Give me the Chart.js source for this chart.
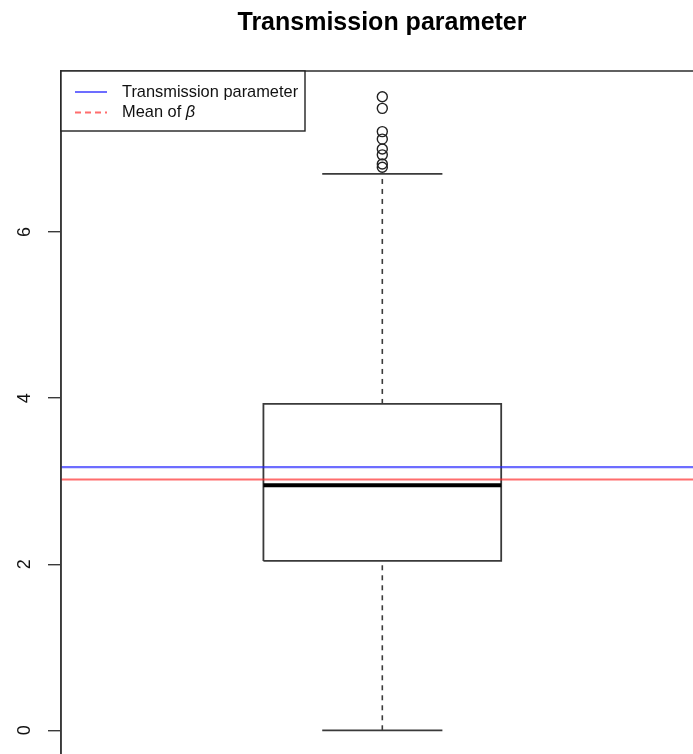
<!DOCTYPE html>
<html>
<head>
<meta charset="utf-8">
<script src="https://cdn.jsdelivr.net/npm/chart.js@4.4.0/dist/chart.umd.min.js"></script>
<style>
  html, body { margin: 0; padding: 0; overflow: hidden; background: #fff; }
  #wrap { position: absolute; left: 0; top: 0; }
</style>
</head>
<body>
<div id="wrap"><canvas id="c" width="764" height="762"></canvas></div>
<script>
// Summary of the posterior draws of the transmission parameter
const chartTitle = 'Transmission parameter';
const whiskers = [0, 6.70];            // lower, upper whisker ends
const quartiles = [2.04, 3.93];        // Q1, Q3
const median = [2.95];
const outliers = [6.78, 6.82, 6.93, 7.00, 7.12, 7.21, 7.49, 7.63];
// Horizontal reference lines and their legend entries
const refLabels = ['Transmission parameter', 'Mean of '];
const refValues = [3.17, 3.02];
const yTicks = [0, 2, 4, 6];

const FONT = "'Liberation Sans', Arial, Helvetica, sans-serif";
const BOX_HALF = 0.185, CAP_HALF = 0.0935, X_CENTER = 1;
const X_MIN = 0.5, X_MAX = 1.5, X_VIEW_MAX = 1.584;
const INK = '#3a3a3a';
const REF_COLORS = ['rgba(40,40,255,0.68)', 'rgba(255,40,40,0.68)'];

const boxOutline = [
  { x: X_CENTER - BOX_HALF, y: quartiles[0] },
  { x: X_CENTER + BOX_HALF, y: quartiles[0] },
  { x: X_CENTER + BOX_HALF, y: quartiles[1] },
  { x: X_CENTER - BOX_HALF, y: quartiles[1] },
  { x: X_CENTER - BOX_HALF, y: quartiles[0] }
];

const line = (data, color, width, extra) => Object.assign({
  type: 'scatter', data, showLine: true, borderColor: color, borderWidth: width,
  pointRadius: 0, fill: false, tension: 0
}, extra || {});

const datasets = [
  // whiskers (dashed) and caps
  line([{ x: X_CENTER, y: quartiles[1] }, { x: X_CENTER, y: whiskers[1] }], INK, 1.6, { borderDash: [5, 5], order: 6 }),
  line([{ x: X_CENTER, y: whiskers[0] }, { x: X_CENTER, y: quartiles[0] }], INK, 1.6, { borderDash: [5, 5], order: 6 }),
  line([{ x: X_CENTER - CAP_HALF, y: whiskers[1] }, { x: X_CENTER + CAP_HALF, y: whiskers[1] }], INK, 1.8, { order: 5 }),
  line([{ x: X_CENTER - CAP_HALF, y: whiskers[0] }, { x: X_CENTER + CAP_HALF, y: whiskers[0] }], INK, 1.8, { order: 5 }),
  // box
  line(boxOutline, INK, 1.8, { order: 4 }),
  line([{ x: X_CENTER - BOX_HALF, y: median[0] }, { x: X_CENTER + BOX_HALF, y: median[0] }], '#000', 4, { order: 3, borderCapStyle: 'butt' }),
  // outliers
  {
    type: 'scatter', data: outliers.map(v => ({ x: X_CENTER, y: v })),
    pointRadius: 5, pointStyle: 'circle', borderColor: '#222', borderWidth: 1.4,
    backgroundColor: 'rgba(0,0,0,0)', order: 2
  },
  // reference lines across the whole panel
  line([{ x: X_MIN, y: refValues[0] }, { x: X_MAX, y: refValues[0] }], REF_COLORS[0], 2.2, { order: 1 }),
  line([{ x: X_MIN, y: refValues[1] }, { x: X_MAX, y: refValues[1] }], REF_COLORS[1], 2.2, { order: 1 })
];

// Plot frame, rotated y tick labels and the framed legend
const decorations = {
  id: 'decorations',
  afterDraw(chart) {
    const { ctx, chartArea: a, scales: { x, y } } = chart;
    ctx.save();
    ctx.strokeStyle = INK;
    ctx.lineWidth = 1.6;
    const right = x.getPixelForValue(X_MAX);
    ctx.strokeRect(a.left, a.top, right - a.left, a.bottom - a.top);

    ctx.fillStyle = '#111';
    ctx.font = '18px ' + FONT;
    ctx.textAlign = 'center';
    ctx.textBaseline = 'middle';
    y.ticks.forEach(t => {
      const py = y.getPixelForValue(t.value);
      ctx.save();
      ctx.translate(25, py);
      ctx.rotate(-Math.PI / 2);
      ctx.fillText(String(t.value), 0, 0);
      ctx.restore();
    });

    // legend
    const lx = a.left, ly = a.top, lw = 244, lh = 60;
    ctx.fillStyle = '#fff';
    ctx.fillRect(lx, ly, lw, lh);
    ctx.strokeStyle = '#222';
    ctx.lineWidth = 1.4;
    ctx.strokeRect(lx, ly, lw, lh);
    const rows = [ly + 21, ly + 41.5];
    refLabels.forEach((lab, i) => {
      ctx.strokeStyle = REF_COLORS[i];
      ctx.lineWidth = 2;
      ctx.setLineDash(i === 1 ? [6, 4] : []);
      ctx.beginPath();
      ctx.moveTo(lx + 14, rows[i]);
      ctx.lineTo(lx + 46, rows[i]);
      ctx.stroke();
      ctx.setLineDash([]);
      ctx.fillStyle = '#111';
      ctx.textAlign = 'left';
      ctx.font = '16.4px ' + FONT;
      ctx.fillText(lab, lx + 61, rows[i]);
      if (i === 1) {
        const w = ctx.measureText(lab).width;
        ctx.font = 'italic 16.4px ' + FONT;
        ctx.fillText('\u03B2', lx + 61 + w, rows[i]);
      }
    });
    ctx.restore();
  }
};

new Chart(document.getElementById('c'), {
  type: 'scatter',
  data: { datasets },
  plugins: [decorations],
  options: {
    responsive: false,
    animation: false,
    layout: { padding: 0 },
    plugins: {
      legend: { display: false },
      tooltip: { enabled: false },
      title: {
        display: true, text: chartTitle, color: '#000',
        font: { family: FONT, size: 25, weight: 'bold', lineHeight: 1.2 },
        padding: { top: 8, bottom: 33 }
      }
    },
    scales: {
      x: { type: 'linear', min: X_MIN, max: X_VIEW_MAX, display: false },
      y: {
        type: 'linear', min: -0.305, max: 7.94,
        afterBuildTicks: s => { s.ticks = yTicks.map(v => ({ value: v })); },
        afterFit: s => { s.width = 61; },
        grid: { drawOnChartArea: false, drawTicks: true, tickLength: 13, color: INK, lineWidth: 1.4 },
        border: { display: true, color: INK, width: 1.6 },
        ticks: { display: false }
      }
    }
  }
});
</script>
</body>
</html>
